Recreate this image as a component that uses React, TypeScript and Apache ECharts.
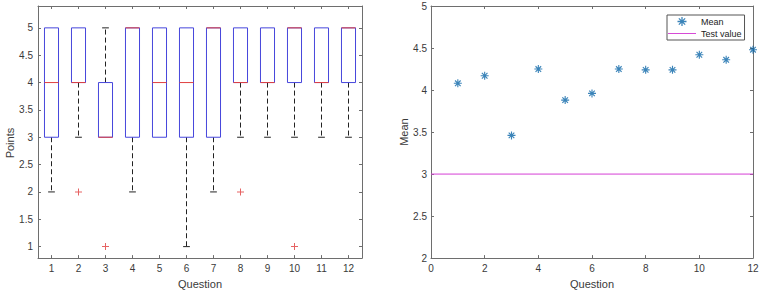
import React, { useEffect, useRef } from "react";
import * as echarts from "echarts";

// ---- data ----
const questions = ["1", "2", "3", "4", "5", "6", "7", "8", "9", "10", "11", "12"];
const whiskerLow = [2, 3, 3, 2, 3, 1, 2, 3, 3, 3, 3, 3];
const quartile1 = [3, 4, 3, 3, 3, 3, 3, 4, 4, 4, 4, 4];
const medians = [4, 4, 3, 5, 4, 4, 5, 4, 4, 5, 4, 5];
const quartile3 = [5, 5, 4, 5, 5, 5, 5, 5, 5, 5, 5, 5];
const whiskerHigh = [5, 5, 5, 5, 5, 5, 5, 5, 5, 5, 5, 5];
const outlierQuestion = ["2", "3", "8", "10"];
const outlierValue = [2, 1, 2, 1];
const questionNumbers = [1, 2, 3, 4, 5, 6, 7, 8, 9, 10, 11, 12];
const means = [4.08, 4.17, 3.46, 4.25, 3.88, 3.96, 4.25, 4.24, 4.24, 4.42, 4.36, 4.48];
const testValue = 3;
const pointsTicks = [1, 1.5, 2, 2.5, 3, 3.5, 4, 4.5, 5];

const FONT = "'Liberation Sans', Arial, Helvetica, sans-serif";
const AXIS_COLOR = "#6e6e6e";
const TEXT_COLOR = "#3a3a3a";
const STAR =
  "path://M43,0 L57,0 L57,100 L43,100 Z M0,43 L100,43 L100,57 L0,57 Z M20,10 L90,80 L80,90 L10,20 Z M80,10 L90,20 L20,90 L10,80 Z";
const PLUS = "path://M3,0 L4,0 L4,3 L7,3 L7,4 L4,4 L4,7 L3,7 L3,4 L0,4 L0,3 L3,3 Z";
const LEGEND_LINE = "path://M0,0 L30,0 L30,1 L0,1 Z";

const axisLine = { show: true, onZero: false, lineStyle: { color: AXIS_COLOR, width: 1 } };
const tick = { show: true, inside: true, length: 3, lineStyle: { color: AXIS_COLOR } };
const label = { color: TEXT_COLOR, fontSize: 10, fontFamily: FONT };
const nameStyle = { color: TEXT_COLOR, fontSize: 11, fontFamily: FONT };

export default function App() {
  const ref = useRef<HTMLDivElement>(null);
  useEffect(() => {
    document.body.style.margin = "0";
    const chart = echarts.init(ref.current!, null, { renderer: "svg" });
    const boxData = questions.map((_, i) => [
      i,
      whiskerLow[i],
      quartile1[i],
      medians[i],
      quartile3[i],
      whiskerHigh[i],
    ]);
    chart.setOption({
      animation: false,
      backgroundColor: "#fff",
      textStyle: { fontFamily: FONT },
      grid: [
        { left: 38, top: 6, width: 324, height: 255 },
        { left: 431, top: 6, width: 322, height: 255 },
      ],
      legend: {
        left: 667,
        top: 15,
        orient: "vertical",
        itemWidth: 28,
        itemHeight: 9,
        itemGap: 3,
        padding: [2, 3, 2, 1],
        borderColor: "#555",
        borderWidth: 1,
        backgroundColor: "#fff",
        textStyle: { fontSize: 9, color: "#222", fontFamily: FONT },
        data: [
          { name: "Mean", icon: STAR },
          { name: "Test value", icon: LEGEND_LINE },
        ],
      },
      xAxis: [
        {
          gridIndex: 0,
          type: "category",
          data: questions,
          position: "bottom",
          axisLine,
          axisTick: { ...tick, alignWithLabel: true },
          axisLabel: { ...label, margin: 5 },
          name: "Question",
          nameLocation: "middle",
          nameGap: 19,
          nameTextStyle: nameStyle,
        },
        {
          gridIndex: 0,
          type: "category",
          data: questions,
          position: "top",
          axisLine,
          axisTick: { ...tick, alignWithLabel: true },
          axisLabel: { show: false },
        },
        {
          gridIndex: 1,
          type: "value",
          min: 0,
          max: 12,
          interval: 2,
          position: "bottom",
          axisLine,
          axisTick: tick,
          axisLabel: { ...label, margin: 5 },
          splitLine: { show: false },
          name: "Question",
          nameLocation: "middle",
          nameGap: 19,
          nameTextStyle: nameStyle,
        },
        {
          gridIndex: 1,
          type: "value",
          min: 0,
          max: 12,
          interval: 2,
          position: "top",
          axisLine,
          axisTick: tick,
          axisLabel: { show: false },
          splitLine: { show: false },
        },
      ],
      yAxis: [
        {
          gridIndex: 0,
          type: "value",
          min: 0.79,
          max: 5.4,
          position: "left",
          axisLine,
          axisTick: { ...tick, customValues: pointsTicks },
          axisLabel: { ...label, margin: 5, customValues: pointsTicks },
          splitLine: { show: false },
          name: "Points",
          nameLocation: "middle",
          nameGap: 22,
          nameTextStyle: { ...nameStyle, padding: [0, 22, 0, 0] },
        },
        {
          gridIndex: 0,
          type: "value",
          min: 0.79,
          max: 5.4,
          position: "right",
          axisLine,
          axisTick: { ...tick, customValues: pointsTicks },
          axisLabel: { show: false },
          splitLine: { show: false },
        },
        {
          gridIndex: 1,
          type: "value",
          min: 2,
          max: 5,
          interval: 0.5,
          position: "left",
          axisLine,
          axisTick: tick,
          axisLabel: { ...label, margin: 4 },
          splitLine: { show: false },
          name: "Mean",
          nameLocation: "middle",
          nameGap: 20,
          nameTextStyle: nameStyle,
        },
        {
          gridIndex: 1,
          type: "value",
          min: 2,
          max: 5,
          interval: 0.5,
          position: "right",
          axisLine,
          axisTick: tick,
          axisLabel: { show: false },
          splitLine: { show: false },
        },
      ],
      series: [
        {
          type: "custom",
          name: "Boxes",
          xAxisIndex: 0,
          yAxisIndex: 0,
          encode: { x: 0, y: [1, 2, 3, 4, 5] },
          data: boxData,
          renderItem: (params: any, api: any) => {
            const idx = api.value(0);
            const lo = api.value(1);
            const a = api.value(2);
            const m = api.value(3);
            const b = api.value(4);
            const hi = api.value(5);
            const bw = api.size([1, 0])[0] * 0.52;
            const capW = bw * 0.48;
            const pLo = api.coord([idx, lo]);
            const pA = api.coord([idx, a]);
            const pM = api.coord([idx, m]);
            const pB = api.coord([idx, b]);
            const pHi = api.coord([idx, hi]);
            const cx = pA[0];
            const children: any[] = [];
            const dash = { stroke: "#222", lineWidth: 1, lineDash: [5, 3] };
            const solid = { stroke: "#222", lineWidth: 1 };
            if (hi > b) {
              children.push({ type: "line", shape: { x1: cx, y1: pB[1], x2: cx, y2: pHi[1] }, style: dash });
              children.push({ type: "line", shape: { x1: cx - capW / 2, y1: pHi[1], x2: cx + capW / 2, y2: pHi[1] }, style: solid });
            }
            if (lo < a) {
              children.push({ type: "line", shape: { x1: cx, y1: pA[1], x2: cx, y2: pLo[1] }, style: dash });
              children.push({ type: "line", shape: { x1: cx - capW / 2, y1: pLo[1], x2: cx + capW / 2, y2: pLo[1] }, style: solid });
            }
            children.push({
              type: "rect",
              shape: { x: cx - bw / 2, y: pB[1], width: bw, height: pA[1] - pB[1] },
              style: { fill: "none", stroke: "#4646dc", lineWidth: 1 },
            });
            children.push({
              type: "line",
              shape: { x1: cx - bw / 2, y1: pM[1], x2: cx + bw / 2, y2: pM[1] },
              style: { stroke: "#e04040", lineWidth: 1 },
            });
            return { type: "group", children };
          },
        },
        {
          type: "scatter",
          name: "Outliers",
          xAxisIndex: 0,
          yAxisIndex: 0,
          symbol: PLUS,
          symbolSize: 7,
          itemStyle: { color: "#e03c3c" },
          data: outlierQuestion.map((q, i) => [q, outlierValue[i]]),
        },
        {
          type: "scatter",
          name: "Mean",
          xAxisIndex: 2,
          yAxisIndex: 2,
          symbol: STAR,
          symbolSize: 8,
          itemStyle: { color: "#0a65a8" },
          data: questionNumbers.map((q, i) => [q, means[i]]),
        },
        {
          type: "line",
          name: "Test value",
          xAxisIndex: 2,
          yAxisIndex: 2,
          symbol: "none",
          showSymbol: false,
          lineStyle: { color: "#d53fd5", width: 1 },
          itemStyle: { color: "#d53fd5" },
          data: [
            [0, testValue],
            [12, testValue],
          ],
        },
      ],
    });
    return () => chart.dispose();
  }, []);
  return <div ref={ref} style={{ width: 765, height: 294 }} />;
}
